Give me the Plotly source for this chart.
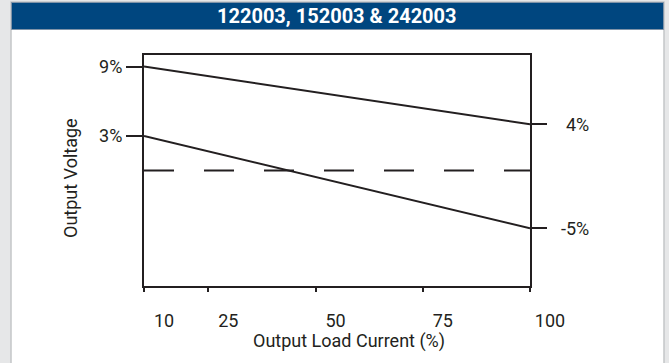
import plotly.graph_objects as go

# data: output voltage deviation (%) vs output load current (%)
load_pct = [10, 100]
upper_pct = [9, 4]
lower_pct = [3, -5]
nominal_pct = [0, 0]

x_ticks = [10, 25, 50, 75, 100]
x_ticktext = ["10", "25", "50", "75", "100"]
left_ticks = [9, 3]
left_ticktext = ["9%", "3%"]
right_ticks = [4, -5]
right_ticktext = ["4%", "-5%"]

TITLE = "122003, 152003 & 242003"
INK = "#231f20"
NAVY = "#00467f"
FONT = "Roboto, Liberation Sans, sans-serif"

W, H = 669, 363
L, R, T, B = 144, 530, 55, 286  # plot area in pixels


def px(x):
    return (x - L) / (R - L)


def py(y):
    return (B - y) / (B - T)


fig = go.Figure()
fig.add_trace(go.Scatter(x=load_pct, y=upper_pct, mode="lines",
                         line=dict(color=INK, width=2), hoverinfo="skip"))
fig.add_trace(go.Scatter(x=load_pct, y=lower_pct, mode="lines",
                         line=dict(color=INK, width=2), hoverinfo="skip"))
fig.add_trace(go.Scatter(x=load_pct, y=nominal_pct, mode="lines",
                         line=dict(color=INK, width=2, dash="30px,30px"), hoverinfo="skip"))
# invisible trace to carry the right axis
fig.add_trace(go.Scatter(x=load_pct, y=nominal_pct, yaxis="y2", mode="lines",
                         line=dict(width=0), hoverinfo="skip"))

axis_common = dict(showgrid=False, zeroline=False, showline=True, linecolor=INK, linewidth=2,
                   ticks="outside", tickcolor=INK, tickwidth=2,
                   tickfont=dict(family=FONT, size=18, color=INK))

fig.update_layout(
    width=W, height=H,
    margin=dict(l=L, r=W - R, t=T, b=H - B, pad=0),
    paper_bgcolor="#e6e7e8", plot_bgcolor="white",
    showlegend=False,
    xaxis=dict(range=[10, 100], tickvals=x_ticks, ticktext=x_ticktext, ticklen=4,
               mirror=True, ticklabelshift=20, ticklabelstandoff=13, **axis_common),
    yaxis=dict(range=[-10, 10], tickvals=left_ticks, ticktext=left_ticktext, ticklen=16,
               ticklabelstandoff=0, **axis_common),
    yaxis2=dict(range=[-10, 10], tickvals=right_ticks, ticklen=15, overlaying="y", side="right",
                showticklabels=False, **axis_common),
)

# white card with header band
fig.add_shape(type="rect", xref="paper", yref="paper", layer="below",
              x0=px(11), x1=px(664), y0=py(H + 5), y1=py(2),
              fillcolor="white", line=dict(color="#c4c6c8", width=1.5))
fig.add_shape(type="rect", xref="paper", yref="paper", layer="below",
              x0=px(11.5), x1=px(663.5), y0=py(29.5), y1=py(2.5),
              fillcolor=NAVY, line=dict(color="#7f93a8", width=1))

fig.add_annotation(text=f"<b>{TITLE}</b>", xref="paper", yref="paper", x=px(337), y=py(16),
                   xanchor="center", yanchor="middle", showarrow=False,
                   font=dict(family=FONT, size=20, color="white"))
fig.add_annotation(text="Output Load Current (%)", xref="paper", yref="paper",
                   x=px(349), y=py(341), xanchor="center", yanchor="middle", showarrow=False,
                   font=dict(family=FONT, size=18, color=INK))
fig.add_annotation(text="Output Voltage", xref="paper", yref="paper", textangle=-90,
                   x=px(70), y=py(178), xanchor="center", yanchor="middle", showarrow=False,
                   font=dict(family=FONT, size=18, color=INK))
for val, lab in zip(right_ticks, right_ticktext):
    fig.add_annotation(text=lab, xref="paper", yref="y", x=px(591), y=val,
                       xanchor="right", yanchor="middle", showarrow=False,
                       font=dict(family=FONT, size=18, color=INK))

fig.write_html("out.html", config={"displayModeBar": False},
               post_script="document.body.style.margin='0';")
